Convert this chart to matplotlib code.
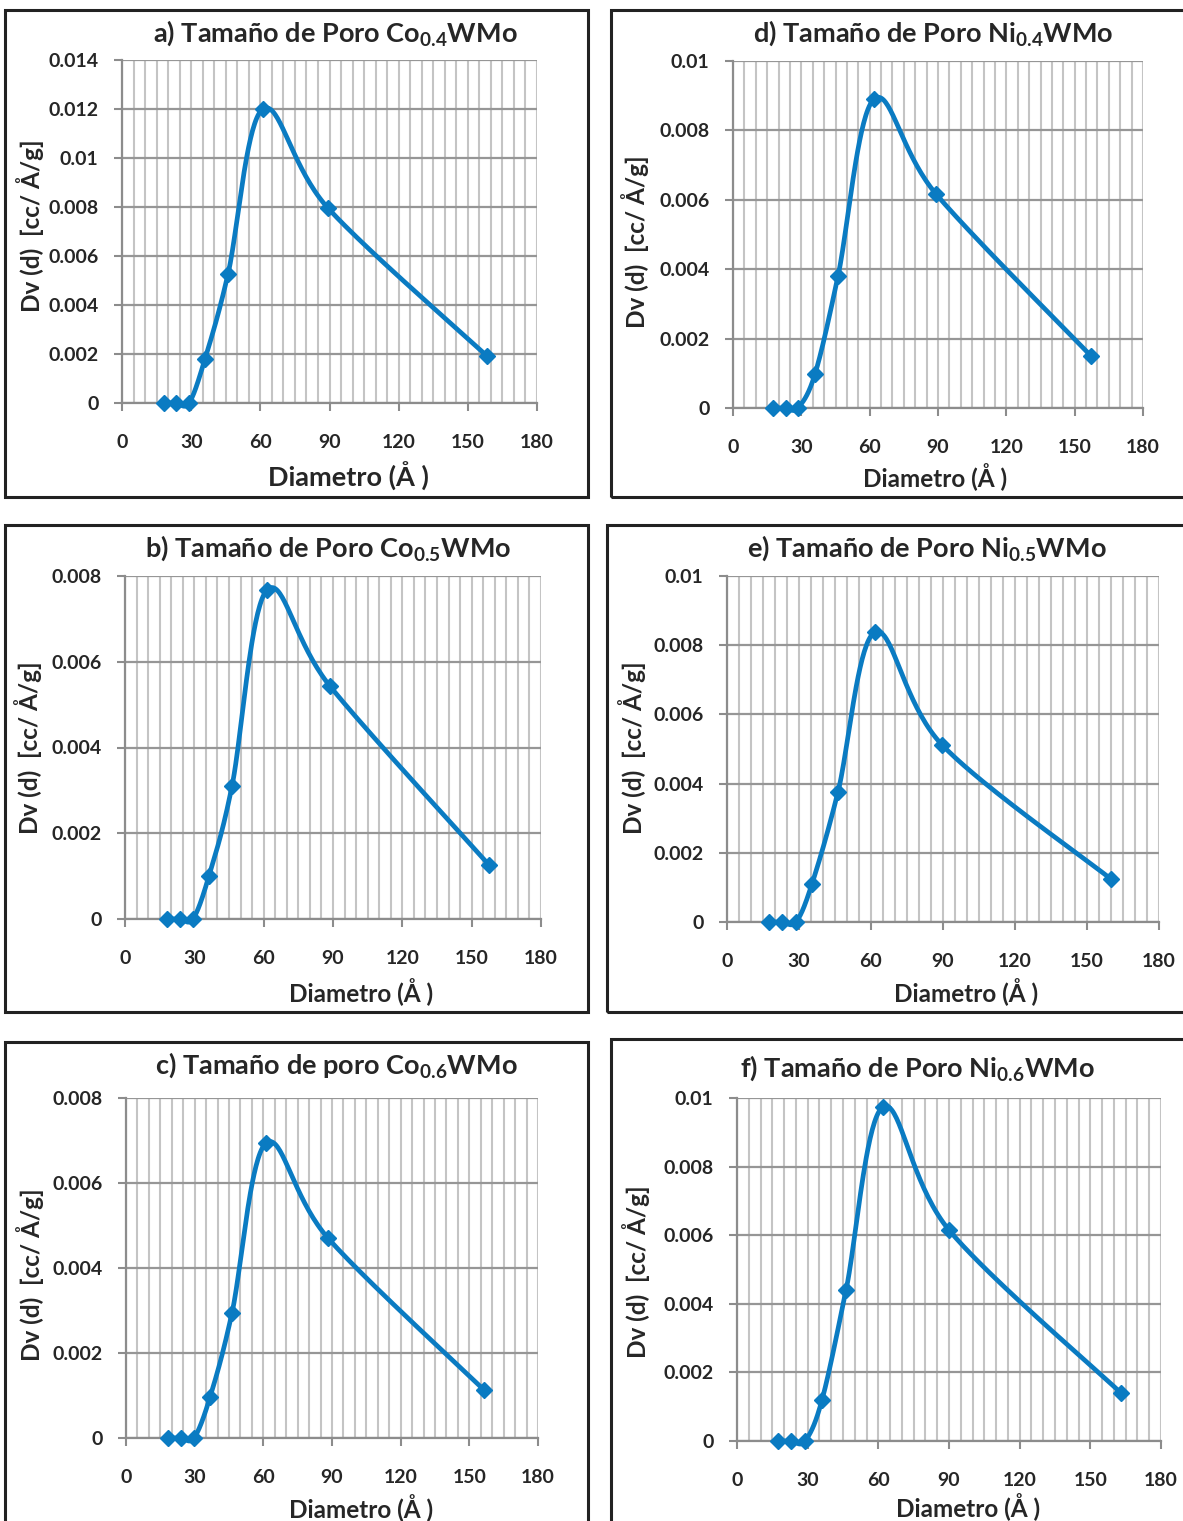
import numpy as np
import matplotlib
matplotlib.use("Agg")
import matplotlib.pyplot as plt
from matplotlib.patches import Rectangle

plt.rcParams['font.family'] = ['Lato', 'DejaVu Sans']
plt.rcParams['font.weight'] = 'bold'
plt.rcParams['mathtext.fontset'] = 'custom'
plt.rcParams['mathtext.rm'] = 'Lato:bold'
plt.rcParams['mathtext.bf'] = 'Lato:bold'
plt.rcParams['mathtext.it'] = 'Lato:bold'

# Pore-size distributions (diameter in Å, Dv(d) in cc/Å/g)
diam_a = [18.2, 23.4, 29.1, 36.0, 46.0, 61.1, 89.3, 158.3]
dv_a = [0.0, 0.0, 0.0, 0.0018, 0.00527, 0.0120, 0.00796, 0.00192]

diam_b = [18.2, 23.8, 29.4, 36.3, 46.3, 61.4, 88.7, 157.5]
dv_b = [0.0, 0.0, 0.0, 0.0010, 0.0031, 0.00767, 0.00543, 0.00126]

diam_c = [18.3, 24.0, 29.7, 36.7, 46.3, 61.2, 88.3, 156.4]
dv_c = [0.0, 0.0, 0.0, 0.00096, 0.00294, 0.00694, 0.0047, 0.00113]

diam_d = [17.6, 23.3, 28.5, 36.0, 46.1, 61.9, 89.1, 157.2]
dv_d = [0.0, 0.0, 0.0, 0.00098, 0.0038, 0.0089, 0.00617, 0.0015]

diam_e = [17.5, 22.9, 28.75, 35.4, 46.25, 61.7, 89.6, 160.0]
dv_e = [0.0, 0.0, 0.0, 0.0011, 0.00376, 0.00838, 0.00512, 0.00124]

diam_f = [17.4, 22.9, 28.9, 36.1, 46.3, 62.0, 90.0, 163.0]
dv_f = [0.0, 0.0, 0.0, 0.0012, 0.0044, 0.00974, 0.00615, 0.0014]

titles = {
    'a': "a) Tamaño de Poro Co$_{0.4}$WMo",
    'b': "b) Tamaño de Poro Co$_{0.5}$WMo",
    'c': "c) Tamaño de poro Co$_{0.6}$WMo",
    'd': "d) Tamaño de Poro Ni$_{0.4}$WMo",
    'e': "e) Tamaño de Poro Ni$_{0.5}$WMo",
    'f': "f) Tamaño de Poro Ni$_{0.6}$WMo",
}
y_max = {'a': 0.014, 'b': 0.008, 'c': 0.008, 'd': 0.01, 'e': 0.01, 'f': 0.01}
x_ticks = [0, 30, 60, 90, 120, 150, 180]
x_label = "Diametro (Å )"
y_label = "Dv (d)  [cc/ Å/g]"

series = {
    'a': (diam_a, dv_a), 'b': (diam_b, dv_b), 'c': (diam_c, dv_c),
    'd': (diam_d, dv_d), 'e': (diam_e, dv_e), 'f': (diam_f, dv_f),
}

W, H = 1183, 1521
# pixel layout: axes box (left, right, top, bottom), frame box, title/label anchors
layout = {
    'a': dict(ax=(122, 537, 60, 403), frame=(5, 588, 10, 497),
              title=(335, 33), xl=(348, 476, 19.5), yl=(30, 226)),
    'd': dict(ax=(733, 1143, 61, 408), frame=(611, 1195, 10, 497),
              title=(933, 33), xl=(935, 477, 17.5), yl=(635, 242)),
    'b': dict(ax=(125, 541, 576, 919), frame=(5, 588, 525, 1012),
              title=(328, 548), xl=(361, 992, 17.5), yl=(28, 748)),
    'e': dict(ax=(727, 1159, 576, 922), frame=(607, 1195, 525, 1012),
              title=(927, 548), xl=(966, 992, 17.5), yl=(632, 748)),
    'c': dict(ax=(126, 538, 1098, 1438), frame=(5, 588, 1042, 1535),
              title=(336, 1065), xl=(361, 1508, 17.5), yl=(30, 1275)),
    'f': dict(ax=(737, 1161, 1098, 1441), frame=(611, 1195, 1039, 1535),
              title=(917, 1068), xl=(968, 1507, 17.5), yl=(636, 1272)),
}

LINE = '#0a7bc2'
TXT = '#262626'


def smooth_curve(x, y, n=40):
    """Cubic Bezier smoothing through every point (Catmull-Rom style)."""
    p = np.column_stack([x, y]).astype(float)
    m = len(p)
    out = [p[0]]
    t = np.linspace(0, 1, n)[1:, None]
    for i in range(m - 1):
        p0 = p[i - 1] if i > 0 else p[i]
        p3 = p[i + 2] if i + 2 < m else p[i + 1]
        c1 = p[i] + (p[i + 1] - p0) / 6.0
        c2 = p[i + 1] - (p3 - p[i]) / 6.0
        seg = ((1 - t) ** 3) * p[i] + 3 * ((1 - t) ** 2) * t * c1 \
            + 3 * (1 - t) * t ** 2 * c2 + t ** 3 * p[i + 1]
        out.extend(seg)
    out = np.array(out)
    return out[:, 0], out[:, 1]


fig = plt.figure(figsize=(W / 100, H / 100), dpi=100)

for key, lay in layout.items():
    l, r, t, b = lay['ax']
    ax = fig.add_axes([l / W, 1 - b / H, (r - l) / W, (b - t) / H])
    x, y = series[key]
    ymax = y_max[key]

    ax.set_xlim(0, 180)
    ax.set_ylim(0, ymax)
    ax.set_xticks(x_ticks)
    ax.set_xticks(np.arange(0, 181, 5), minor=True)
    yt = np.arange(0, ymax + 1e-9, 0.002)
    ax.set_yticks(yt)
    ax.set_yticklabels(['%g' % round(v, 4) for v in yt])

    ax.grid(axis='x', which='minor', color='#c4c4c4', lw=1.5)
    ax.grid(axis='x', which='major', color='#c4c4c4', lw=1.5)
    ax.grid(axis='y', which='major', color='#969696', lw=1.6)
    ax.set_axisbelow(True)

    for s in ('top', 'right'):
        ax.spines[s].set_visible(False)
    for s in ('left', 'bottom'):
        ax.spines[s].set_color('#8c8c8c')
        ax.spines[s].set_linewidth(1.6)

    ax.tick_params(axis='x', which='major', direction='out', length=6,
                   width=1.5, color='#8c8c8c', pad=16, labelsize=14,
                   labelcolor=TXT)
    ax.tick_params(axis='x', which='minor', length=0)
    ax.tick_params(axis='y', direction='out', length=6, width=1.5,
                   color='#8c8c8c', pad=11, labelsize=14, labelcolor=TXT)

    sx, sy = smooth_curve(x, y)
    ax.plot(sx, sy, color=LINE, lw=3.4, solid_capstyle='round', zorder=3,
            clip_on=False)
    ax.plot(x, y, linestyle='none', marker='D', ms=8.5, color=LINE,
            markeredgecolor=LINE, zorder=4, clip_on=False)

    tx, ty = lay['title']
    fig.text(tx / W, 1 - ty / H, titles[key], ha='center', va='center',
             fontsize=19.5, color=TXT, fontweight='bold')
    xx, xy, xs = lay['xl']
    fig.text(xx / W, 1 - xy / H, x_label, ha='center', va='center',
             fontsize=xs, color=TXT, fontweight='bold')
    yx, yy = lay['yl']
    fig.text(yx / W, 1 - yy / H, y_label, ha='center', va='center',
             rotation=90, fontsize=17.5, color=TXT, fontweight='bold')

    fl, fr, ft, fb = lay['frame']
    fig.patches.append(Rectangle((fl / W, 1 - fb / H), (fr - fl) / W,
                                 (fb - ft) / H, transform=fig.transFigure,
                                 fill=False, edgecolor='#222222', lw=2.2))

fig.savefig('out.png', dpi=100)
